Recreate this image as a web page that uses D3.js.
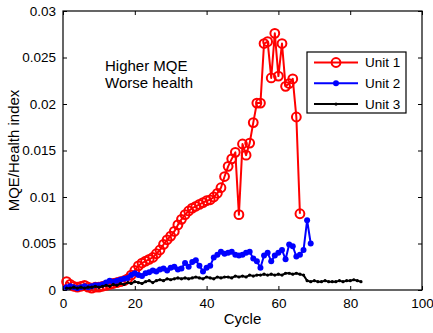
<!DOCTYPE html>
<meta charset="utf-8">
<style type="text/css">
body { margin: 0; background: #fff; }
svg { font-family: "Liberation Sans", Arial, Helvetica, sans-serif; }
.line { fill: none; stroke-width: 2px; stroke-linejoin: round; }
</style>
<body>
<script src="https://d3js.org/d3.v7.min.js"></script>
<script>
// values, one per cycle starting at cycle 1
const unit1 = [0.0009, 0.0006, 0.0004, 0.0003, 0.0004, 0.0005, 0.0003, 0.0002, 0.0003, 0.0003,
  0.0004, 0.0005, 0.0006, 0.0007, 0.0008, 0.0009, 0.0010, 0.0012, 0.0016, 0.0021,
  0.0026, 0.0029, 0.0031, 0.0033, 0.0035, 0.0039, 0.0043, 0.0049, 0.0054, 0.0058,
  0.0063, 0.0070, 0.0076, 0.0081, 0.0085, 0.0088, 0.0090, 0.0092, 0.0094, 0.0096,
  0.0097, 0.0100, 0.0104, 0.0110, 0.0122, 0.0133, 0.0141, 0.0148, 0.0081, 0.0157,
  0.0145, 0.0158, 0.0180, 0.0201, 0.0201, 0.0265, 0.0267, 0.0228, 0.0276, 0.0230,
  0.0265, 0.0219, 0.0222, 0.0227, 0.0186, 0.0082];
const unit2 = [0.0003, 0.0004, 0.0003, 0.0002, 0.0003, 0.0004, 0.0003, 0.0004, 0.0005, 0.0005,
  0.0006, 0.0008, 0.0010, 0.0009, 0.0010, 0.0011, 0.0012, 0.0013, 0.0016, 0.0018,
  0.0016, 0.0015, 0.0018, 0.0019, 0.0021, 0.0020, 0.0022, 0.0023, 0.0021, 0.0024,
  0.0025, 0.0022, 0.0023, 0.0029, 0.0025, 0.0030, 0.0032, 0.0026, 0.0020, 0.0024,
  0.0026, 0.0035, 0.0038, 0.0041, 0.0039, 0.0040, 0.0041, 0.0038, 0.0037, 0.0038,
  0.0040, 0.0041, 0.0034, 0.0031, 0.0024, 0.0037, 0.0040, 0.0031, 0.0037, 0.0040,
  0.0043, 0.0033, 0.0049, 0.0047, 0.0036, 0.0038, 0.0043, 0.0075, 0.0050];
const unit3 = [0.0002, 0.0002, 0.0003, 0.0002, 0.0003, 0.0002, 0.0003, 0.0003, 0.0004, 0.0003,
  0.0004, 0.0005, 0.0004, 0.0006, 0.0005, 0.0007, 0.0006, 0.0008, 0.0007, 0.0009,
  0.0008, 0.0007, 0.0009, 0.0010, 0.0008, 0.0010, 0.0011, 0.0010, 0.0012, 0.0011,
  0.0012, 0.0013, 0.0012, 0.0013, 0.0012, 0.0013, 0.0014, 0.0013, 0.0012, 0.0014,
  0.0013, 0.0012, 0.0014, 0.0013, 0.0014, 0.0014, 0.0013, 0.0015, 0.0014, 0.0015,
  0.0014, 0.0016, 0.0015, 0.0016, 0.0016, 0.0017, 0.0016, 0.0017, 0.0016, 0.0017,
  0.0016, 0.0018, 0.0018, 0.0017, 0.0018, 0.0017, 0.0016, 0.0010, 0.0009, 0.0010,
  0.0009, 0.0009, 0.0010, 0.0009, 0.0009, 0.0009, 0.0010, 0.0009, 0.0010, 0.0010,
  0.0011, 0.0010, 0.0009];
const seriesNames = ["Unit 1", "Unit 2", "Unit 3"];
const xTicks = [0, 20, 40, 60, 80, 100];
const yTicks = [0, 0.005, 0.01, 0.015, 0.02, 0.025, 0.03];

const margin = {top: 11, right: 11, bottom: 43, left: 63};
const width = 433 - margin.left - margin.right;
const height = 333 - margin.top - margin.bottom;

let svg = d3.select("body").append("svg")
  .attr("width", 433).attr("height", 333);
let g = svg.append("g").attr("transform", `translate(${margin.left},${margin.top})`);

let x = d3.scaleLinear().domain([0, 100]).range([0, width]);
let y = d3.scaleLinear().domain([0, 0.03]).range([height, 0]);

// axes with inward ticks, labels drawn by the axis
let fmt = d => d === 0 ? "0" : String(d);
g.append("g").attr("transform", `translate(0,${height})`)
  .call(d3.axisBottom(x).tickValues(xTicks).tickSizeInner(-4).tickSizeOuter(0).tickPadding(8).tickFormat(fmt));
g.append("g")
  .call(d3.axisLeft(y).tickValues(yTicks).tickSizeInner(-4).tickSizeOuter(0).tickPadding(7).tickFormat(fmt));
g.append("g")
  .call(d3.axisTop(x).tickValues(xTicks).tickSizeInner(-4).tickSizeOuter(0).tickFormat(""));
g.append("g").attr("transform", `translate(${width},0)`)
  .call(d3.axisRight(y).tickValues(yTicks).tickSizeInner(-4).tickSizeOuter(0).tickFormat(""));
g.selectAll(".domain").remove();
g.selectAll(".tick line").attr("stroke", "#000");
g.selectAll(".tick text").attr("fill", "#000").style("font-size", "13.5px");
g.append("rect").attr("width", width).attr("height", height)
  .attr("fill", "none").attr("stroke", "#000").attr("stroke-width", 1.2);

// axis titles
g.append("text").attr("x", width / 2).attr("y", height + 34)
  .attr("text-anchor", "middle").style("font-size", "15px").text("Cycle");
g.append("text").attr("transform", `translate(${-margin.left + 19},${height / 2}) rotate(-90)`)
  .attr("text-anchor", "middle").style("font-size", "15px").text("MQE/Health index");

// annotation
g.append("text").attr("x", 42).attr("y", 60).style("font-size", "15px").text("Higher MQE");
g.append("text").attr("x", 42).attr("y", 77).style("font-size", "15px").text("Worse health");

let line = d3.line().x((d, i) => x(i + 1)).y(d => y(d));

// Unit 1: red with open circles
g.append("path").datum(unit1).attr("class", "line").attr("stroke", "red").attr("d", line);
g.selectAll(".m1").data(unit1).enter().append("circle").attr("class", "m1")
  .attr("cx", (d, i) => x(i + 1)).attr("cy", d => y(d)).attr("r", 4.4)
  .attr("fill", "none").attr("stroke", "red").attr("stroke-width", 2);

// Unit 2: blue with filled dots
g.append("path").datum(unit2).attr("class", "line").attr("stroke", "blue").attr("d", line);
g.selectAll(".m2").data(unit2).enter().append("circle").attr("class", "m2")
  .attr("cx", (d, i) => x(i + 1)).attr("cy", d => y(d)).attr("r", 3).attr("fill", "blue");

// Unit 3: black with small dots
g.append("path").datum(unit3).attr("class", "line").attr("stroke", "#000").attr("d", line);
g.selectAll(".m3").data(unit3).enter().append("circle").attr("class", "m3")
  .attr("cx", (d, i) => x(i + 1)).attr("cy", d => y(d)).attr("r", 1.6).attr("fill", "#000");

// legend
let lg = g.append("g").attr("transform", "translate(244,41)");
lg.append("rect").attr("width", 99).attr("height", 61)
  .attr("fill", "#fff").attr("stroke", "#000").attr("stroke-width", 1.2);
let colors = ["red", "blue", "#000"];
seriesNames.forEach((name, i) => {
  let yy = 10.5 + i * 20.8;
  lg.append("line").attr("x1", 7).attr("x2", 51).attr("y1", yy).attr("y2", yy)
    .attr("stroke", colors[i]).attr("stroke-width", 2);
  if (i === 0) lg.append("circle").attr("cx", 29).attr("cy", yy).attr("r", 4.4)
    .attr("fill", "none").attr("stroke", "red").attr("stroke-width", 2);
  else lg.append("circle").attr("cx", 29).attr("cy", yy).attr("r", i === 1 ? 3 : 1.6).attr("fill", colors[i]);
  lg.append("text").attr("x", 58).attr("y", yy + 4.5).style("font-size", "13.5px").text(name);
});
</script>
</body>
